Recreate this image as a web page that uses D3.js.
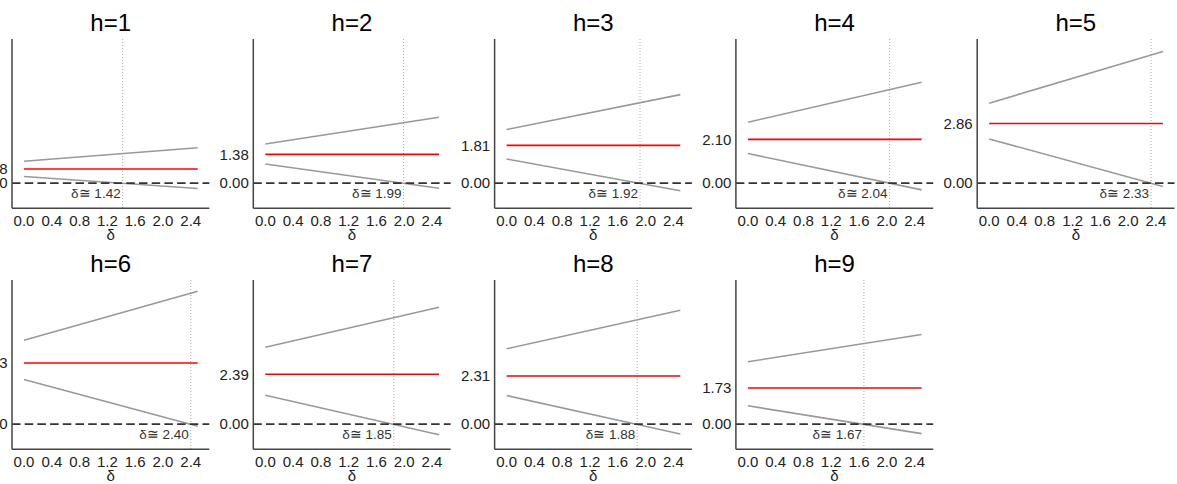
<!DOCTYPE html>
<html>
<head>
<meta charset="utf-8">
<script src="https://cdn.jsdelivr.net/npm/d3@7"></script>
<style>
  body { margin: 0; background: #fff; }
  svg { display: block; font-family: "Liberation Sans", Arial, sans-serif; }
</style>
</head>
<body>
<svg id="chart" width="1177" height="484"></svg>
<script>
// one panel per horizon h
var panels = ["h=1", "h=2", "h=3", "h=4", "h=5", "h=6", "h=7", "h=8", "h=9"];
// point estimate (red line)
var estimate = [0.68, 1.38, 1.81, 2.10, 2.86, 2.93, 2.39, 2.31, 1.73];
// bounds at delta = 0 and delta = 2.5 (gray lines)
var upperStart = [1.05, 1.88, 2.57, 2.92, 3.83, 4.02, 3.68, 3.61, 2.99];
var upperEnd   = [1.70, 3.16, 4.24, 4.83, 6.30, 6.36, 5.60, 5.45, 4.29];
var lowerStart = [0.32, 0.92, 1.16, 1.42, 2.12, 2.14, 1.39, 1.37, 0.88];
var lowerEnd   = [-0.25, -0.24, -0.36, -0.32, -0.16, -0.10, -0.50, -0.47, -0.45];
// breakdown point where the lower bound crosses zero
var breakdown = [1.42, 1.99, 1.92, 2.04, 2.33, 2.40, 1.85, 1.88, 1.67];
var deltaRange = [0, 2.5];
var xTicks = [0.0, 0.4, 0.8, 1.2, 1.6, 2.0, 2.4];

var pw = 197.3, ph = 169.3;
var x = d3.scaleLinear().domain([-0.173, 2.667]).range([0, pw]);
var y = d3.scaleLinear().domain([-1.2, 6.9]).range([ph, 0]);
var fmt = d3.format(".2f");

var svg = d3.select("#chart");

var line = d3.line()
  .x(function(d) { return x(d[0]); })
  .y(function(d) { return y(d[1]); });

panels.forEach(function(name, i) {
  var col = i % 5, row = Math.floor(i / 5);
  var g = svg.append("g")
    .attr("transform", "translate(" + (12 + col * 241.3) + "," + (39 + row * 241) + ")");

  // title
  g.append("text")
    .attr("x", pw / 2).attr("y", -8)
    .attr("text-anchor", "middle")
    .attr("font-size", 24).attr("fill", "#000")
    .text(name);

  // vertical dotted line at the breakdown value
  g.append("line")
    .attr("x1", x(breakdown[i])).attr("x2", x(breakdown[i]))
    .attr("y1", 0).attr("y2", ph)
    .attr("stroke", "#aaa").attr("stroke-width", 1)
    .attr("stroke-dasharray", "1,2");

  // bounds
  g.append("path")
    .attr("d", line([[deltaRange[0], upperStart[i]], [deltaRange[1], upperEnd[i]]]))
    .attr("stroke", "#999").attr("stroke-width", 1.6).attr("fill", "none");
  g.append("path")
    .attr("d", line([[deltaRange[0], lowerStart[i]], [deltaRange[1], lowerEnd[i]]]))
    .attr("stroke", "#999").attr("stroke-width", 1.6).attr("fill", "none");

  // estimate
  g.append("path")
    .attr("d", line([[deltaRange[0], estimate[i]], [deltaRange[1], estimate[i]]]))
    .attr("stroke", "#ff0000").attr("stroke-width", 1.6).attr("fill", "none");

  // zero line
  g.append("line")
    .attr("x1", 0).attr("x2", pw)
    .attr("y1", y(0)).attr("y2", y(0))
    .attr("stroke", "#333").attr("stroke-width", 1.8)
    .attr("stroke-dasharray", "8.5,4.2");

  // breakdown label
  g.append("text")
    .attr("x", x(breakdown[i]) - 2).attr("y", y(0) + 15)
    .attr("text-anchor", "end")
    .attr("font-size", 13.5).attr("fill", "#333")
    .text("δ≅ " + fmt(breakdown[i]));

  // axes
  g.append("line")
    .attr("x1", 0).attr("x2", 0).attr("y1", 0).attr("y2", ph)
    .attr("stroke", "#444").attr("stroke-width", 1.5);
  g.append("line")
    .attr("x1", 0).attr("x2", pw).attr("y1", ph).attr("y2", ph)
    .attr("stroke", "#444").attr("stroke-width", 1.5);

  // y labels: zero and the estimate
  g.selectAll("text.ylab")
    .data([0, estimate[i]])
    .enter().append("text")
    .attr("class", "ylab")
    .attr("x", -4.5).attr("y", function(d) { return y(d); })
    .attr("dy", "0.35em")
    .attr("text-anchor", "end")
    .attr("font-size", 15).attr("fill", "#222")
    .text(function(d) { return fmt(d); });

  // x tick labels
  g.selectAll("text.xlab")
    .data(xTicks)
    .enter().append("text")
    .attr("class", "xlab")
    .attr("x", function(d) { return x(d); })
    .attr("y", ph + 18)
    .attr("text-anchor", "middle")
    .attr("font-size", 15).attr("fill", "#222")
    .text(function(d) { return d3.format(".1f")(d); });

  // x axis title
  g.append("text")
    .attr("x", pw / 2).attr("y", ph + 32)
    .attr("text-anchor", "middle")
    .attr("font-size", 15).attr("fill", "#222")
    .text("δ");
});
</script>
</body>
</html>
